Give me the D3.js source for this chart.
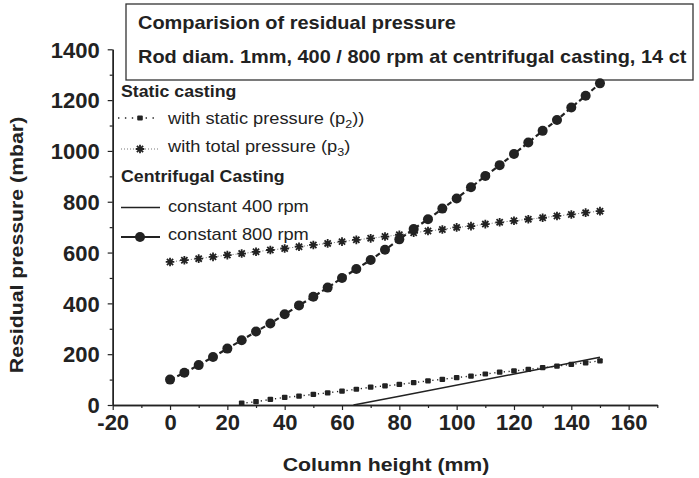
<!DOCTYPE html>
<html>
<head>
<meta charset="utf-8">
<script src="https://cdn.jsdelivr.net/npm/d3@7"></script>
<style>
  html, body { margin: 0; padding: 0; background: #ffffff; }
  svg { display: block; font-family: "Liberation Sans", Arial, sans-serif; }
</style>
</head>
<body>
<svg id="chart" width="699" height="478"></svg>
<script>
// ---------------- data ----------------
const heights = [0,5,10,15,20,25,30,35,40,45,50,55,60,65,70,75,80,85,90,95,100,105,110,115,120,125,130,135,140,145,150];
const rpm800 = [100,127,157,189,222,255,289,321,357,392,426,462,500,535,571,611,652,693,731,773,813,857,901,944,988,1033,1079,1122,1171,1217,1266];
const totalP3 = [563,570,576,583,590,596,603,610,616,623,630,636,643,650,656,663,670,678,685,691,699,704,712,719,725,731,737,744,750,757,763];
const heightsP2 = [25,30,35,40,45,50,55,60,65,70,75,80,85,90,95,100,105,110,115,120,125,130,135,140,145,150];
const staticP2 = [7,13,22,30,35,42,48,55,62,70,75,81,88,95,101,108,114,122,129,134,140,147,153,160,166,174];
const heights400 = [64, 80, 150];
const rpm400 = [0, 34, 188];

const xMajorTicks = [-20,0,20,40,60,80,100,120,140,160];
const xMinorTicks = [-10,10,30,50,70,90,110,130,150,170];
const yMajorTicks = [0,200,400,600,800,1000,1200,1400];
const yMinorTicks = [100,300,500,700,900,1100,1300];

const titleLines = ["Comparision of residual pressure", "Rod diam. 1mm, 400 / 800 rpm at centrifugal casting, 14 ct"];
const xTitle = "Column height (mm)";
const yTitle = "Residual pressure (mbar)";

// ---------------- drawing ----------------
const ink = "#222";
const svg = d3.select("#chart");

const x = d3.scaleLinear().domain([-20, 170]).range([112.7, 657.3]);
const y = d3.scaleLinear().domain([0, 1400]).range([405, 49.3]);

function txt(g, px, py, s, size, weight, anchor, sx, rot) {
  return g.append("text")
    .attr("transform", `translate(${px},${py})` + (rot ? ` rotate(${rot})` : "") + ` scale(${sx},1)`)
    .attr("font-size", size)
    .attr("font-weight", weight)
    .attr("text-anchor", anchor)
    .attr("fill", ink)
    .text(s);
}

const plain = d => String(d);

// axes
const xAxis = svg.append("g").attr("transform", `translate(0,${y(0)})`)
  .call(d3.axisBottom(x).tickValues(xMajorTicks).tickFormat(plain).tickSize(5).tickSizeOuter(0).tickPadding(5));
svg.append("g").attr("transform", `translate(0,${y(0)})`)
  .call(d3.axisBottom(x).tickValues(xMinorTicks).tickSize(3).tickSizeOuter(0).tickFormat(""));
const yAxis = svg.append("g").attr("transform", `translate(${x(-20)},0)`)
  .call(d3.axisLeft(y).tickValues(yMajorTicks).tickFormat(plain).tickSize(5).tickSizeOuter(0).tickPadding(8));
svg.append("g").attr("transform", `translate(${x(-20)},0)`)
  .call(d3.axisLeft(y).tickValues(yMinorTicks).tickSize(3).tickSizeOuter(0).tickFormat(""));

svg.selectAll(".domain").attr("stroke", ink).attr("stroke-width", 1.4);
svg.selectAll(".tick line").attr("stroke", ink).attr("stroke-width", 1.2);
svg.selectAll(".tick text")
  .attr("font-family", "'Liberation Sans', Arial, sans-serif")
  .attr("font-size", 22).attr("font-weight", "bold").attr("fill", ink);
yAxis.selectAll(".tick text").attr("dy", "0.35em");
xAxis.selectAll(".tick text").attr("dy", "0.68em");

// axis titles
txt(svg, 386, 471, xTitle, 19, "bold", "middle", 1.12, 0);
txt(svg, 23, 245, yTitle, 19, "bold", "middle", 1.12, -90);

// title box
svg.append("rect").attr("x", 126).attr("y", 4).attr("width", 567).attr("height", 76)
  .attr("fill", "#fff").attr("stroke", "#333").attr("stroke-width", 1.3);
txt(svg, 138, 29, titleLines[0], 17.5, "bold", "start", 1.14, 0);
txt(svg, 138, 63, titleLines[1], 17.5, "bold", "start", 1.14, 0);

// series
const plot = svg.append("g");
const line = d3.line().x(d => x(d[0])).y(d => y(d[1]));

// static pressure p2
const p2 = heightsP2.map((h, i) => [h, staticP2[i]]);
plot.append("path").attr("d", line(p2)).attr("fill", "none")
  .attr("stroke", ink).attr("stroke-width", 1.4).attr("stroke-dasharray", "1.2,3.6");
plot.selectAll(".p2m").data(p2).join("rect").attr("class", "p2m")
  .attr("x", d => x(d[0]) - 2.8).attr("y", d => y(d[1]) - 2.6)
  .attr("width", 5.6).attr("height", 5.2).attr("rx", 1).attr("fill", ink);

// total pressure p3
const p3 = heights.map((h, i) => [h, totalP3[i]]);
plot.append("path").attr("d", line(p3)).attr("fill", "none")
  .attr("stroke", "#777").attr("stroke-width", 1).attr("stroke-dasharray", "1,2");
const starPath = "M-4.3,0H4.3M0,-4.3V4.3M-3.1,-3.1L3.1,3.1M-3.1,3.1L3.1,-3.1";
plot.selectAll(".p3m").data(p3).join("path").attr("class", "p3m")
  .attr("transform", d => `translate(${x(d[0])},${y(d[1])})`)
  .attr("d", starPath).attr("stroke", ink).attr("stroke-width", 1.8).attr("fill", "none");

// constant 400 rpm
const r400 = heights400.map((h, i) => [h, rpm400[i]]);
plot.append("path").attr("d", line(r400)).attr("fill", "none")
  .attr("stroke", ink).attr("stroke-width", 1.5);

// constant 800 rpm
const r800 = heights.map((h, i) => [h, rpm800[i]]);
plot.append("path").attr("d", line(r800)).attr("fill", "none")
  .attr("stroke", ink).attr("stroke-width", 2.2).attr("stroke-dasharray", "5,3");
plot.selectAll(".r8m").data(r800).join("circle").attr("class", "r8m")
  .attr("cx", d => x(d[0])).attr("cy", d => y(d[1])).attr("r", 5).attr("fill", ink);

// legend
const lg = svg.append("g");
txt(lg, 121, 97, "Static casting", 16, "bold", "start", 1.11, 0);
lg.append("line").attr("x1", 118).attr("x2", 156).attr("y1", 118).attr("y2", 118)
  .attr("stroke", ink).attr("stroke-width", 1.6).attr("stroke-dasharray", "1.4,5.5");
lg.append("rect").attr("x", 137.2).attr("y", 115.4).attr("width", 5.6).attr("height", 5.2).attr("rx", 1).attr("fill", ink);
const t1 = txt(lg, 168, 124, "", 16, "normal", "start", 1.14, 0);
t1.append("tspan").text("with static pressure (p");
t1.append("tspan").attr("font-size", 11).attr("dy", 4).text("2");
t1.append("tspan").attr("dy", -4).text("))");

lg.append("line").attr("x1", 121).attr("x2", 160).attr("y1", 149).attr("y2", 149)
  .attr("stroke", "#777").attr("stroke-width", 1).attr("stroke-dasharray", "1,2");
lg.append("path").attr("transform", "translate(140,149)").attr("d", starPath)
  .attr("stroke", ink).attr("stroke-width", 1.8).attr("fill", "none");
const t2 = txt(lg, 168, 152, "", 16, "normal", "start", 1.14, 0);
t2.append("tspan").text("with total pressure (p");
t2.append("tspan").attr("font-size", 11).attr("dy", 4).text("3");
t2.append("tspan").attr("dy", -4).text(")");

txt(lg, 121, 182, "Centrifugal Casting", 16, "bold", "start", 1.11, 0);
lg.append("line").attr("x1", 121).attr("x2", 160).attr("y1", 207.5).attr("y2", 207.5)
  .attr("stroke", ink).attr("stroke-width", 1.5);
txt(lg, 168, 212, "constant 400 rpm", 16, "normal", "start", 1.14, 0);
lg.append("line").attr("x1", 121).attr("x2", 160).attr("y1", 237).attr("y2", 237)
  .attr("stroke", ink).attr("stroke-width", 2.2);
lg.append("circle").attr("cx", 140).attr("cy", 237).attr("r", 5).attr("fill", ink);
txt(lg, 168, 240, "constant 800 rpm", 16, "normal", "start", 1.14, 0);
</script>
</body>
</html>
